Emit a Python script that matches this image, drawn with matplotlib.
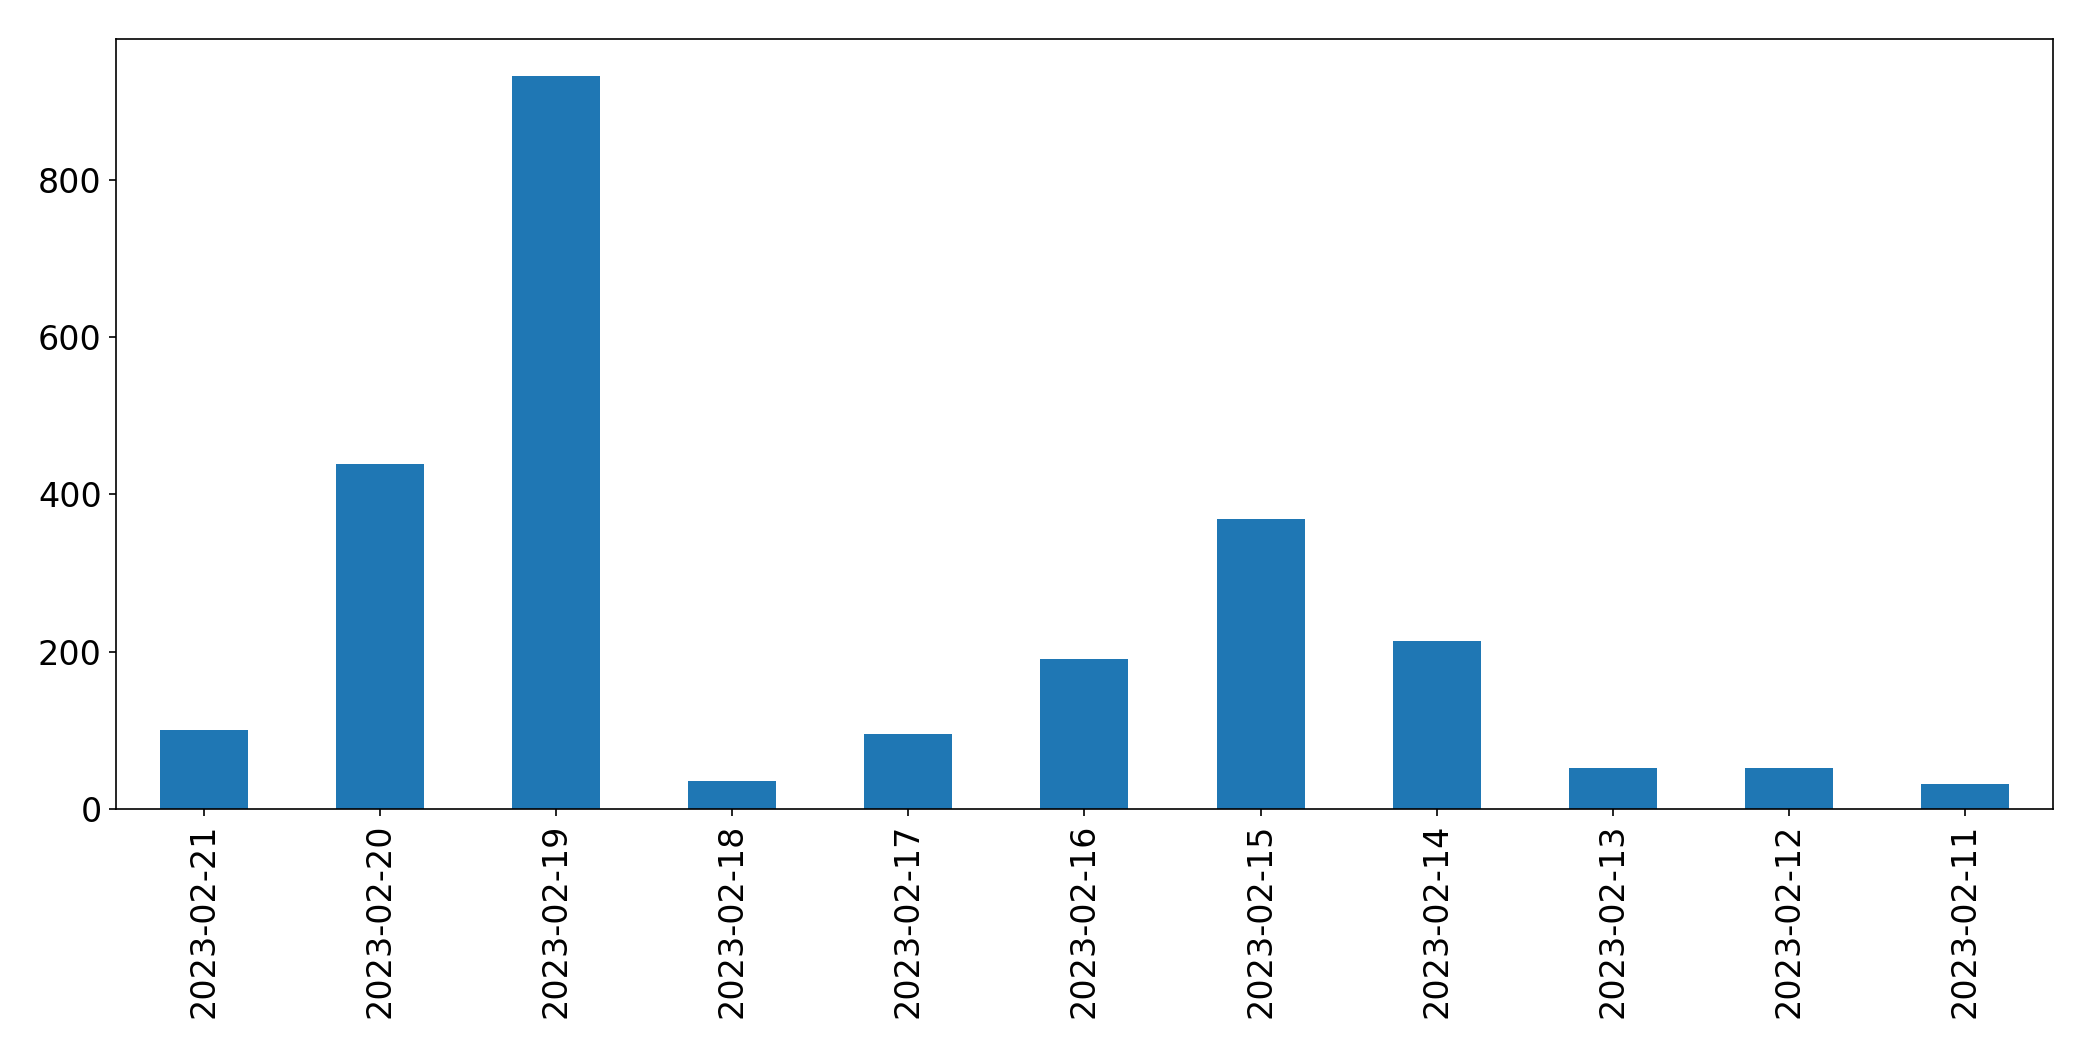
import matplotlib
matplotlib.use("Agg")
import matplotlib.pyplot as plt

# daily counts, newest first (as in the source)
dates = ['2023-02-21', '2023-02-20', '2023-02-19', '2023-02-18', '2023-02-17',
         '2023-02-16', '2023-02-15', '2023-02-14', '2023-02-13', '2023-02-12',
         '2023-02-11']
counts = [101, 439, 932, 36, 96, 191, 369, 214, 52, 52, 32]

fig = plt.figure(figsize=(2093 / 150, 1061 / 150), dpi=150)
ax = fig.add_axes([0.0556, 0.2372, 0.9251, 0.726])

x = list(range(len(dates)))
ax.bar(x, counts, width=0.5, color='#1f77b4')
ax.set_xlim(-0.5, len(dates) - 0.5)
ax.set_xticks(x)
ax.set_xticklabels(dates, rotation=90, fontsize=16)
ax.tick_params(axis='y', labelsize=16)

fig.savefig('out.png', dpi=150)
plt.close()
